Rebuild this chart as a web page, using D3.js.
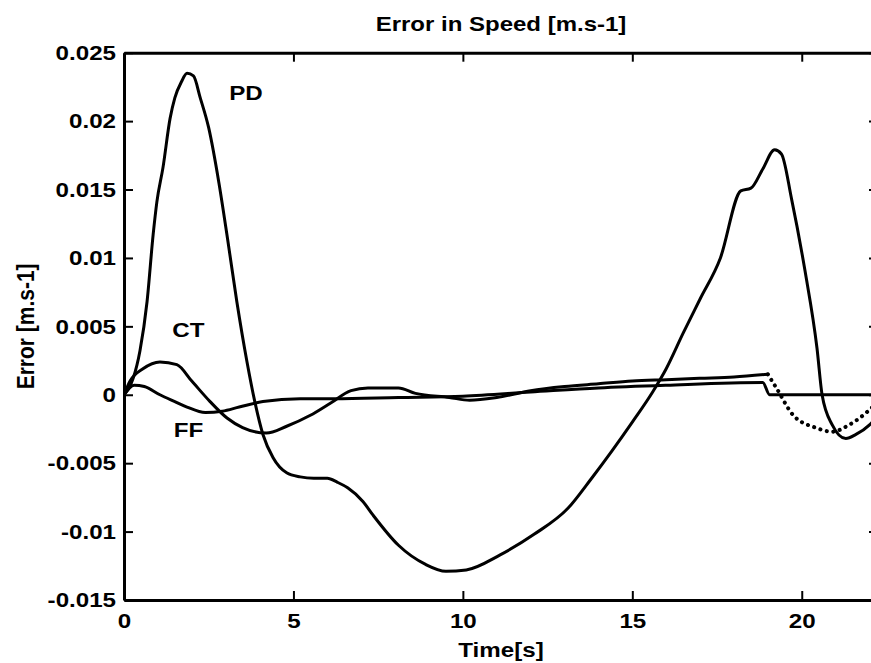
<!DOCTYPE html>
<html>
<head>
<meta charset="utf-8">
<script src="https://cdn.jsdelivr.net/npm/d3@7"></script>
<style>
body { margin: 0; background: #fff; }
text { font-family: "Liberation Sans", Arial, sans-serif; font-weight: bold; fill: #000; }
</style>
</head>
<body>
<div id="chart"></div>
<script>
// values
const pdTime  = [0, 0.15, 0.27, 0.47, 0.68, 0.86, 0.97, 1.15, 1.36, 1.5, 1.7, 1.86, 2.05, 2.25, 2.5, 2.8, 3.05, 3.33, 3.63, 3.86, 4.1, 4.4, 4.8, 5.2, 5.6, 6.0, 6.3, 6.6, 7.05, 7.35, 8.1, 8.9, 9.5, 10.1, 11.1, 12.1, 13.1, 13.8, 14.4, 15.0, 15.6, 16.0, 16.5, 17.0, 17.6, 18.2, 18.5, 18.85, 19.2, 19.4, 19.7, 20.1, 20.45, 20.6, 20.9, 21.3, 21.6, 22.0, 22.25]
const pdError = [0, 0.0005, 0.0012, 0.0032, 0.0068, 0.0117, 0.0141, 0.0166, 0.0202, 0.0217, 0.0229, 0.0235, 0.0233, 0.0217, 0.0195, 0.0155, 0.0115, 0.0068, 0.0024, -0.0005, -0.0029, -0.0046, -0.0057, -0.006, -0.0061, -0.0061, -0.0064, -0.0068, -0.0078, -0.0088, -0.011, -0.0124, -0.0129, -0.0128, -0.0117, -0.0102, -0.0083, -0.0061, -0.0041, -0.002, 0.0002, 0.0019, 0.0045, 0.007, 0.01, 0.0149, 0.0151, 0.0165, 0.0179, 0.0176, 0.0143, 0.009, 0.0034, 0.0, -0.0022, -0.0032, -0.0029, -0.0022, -0.0015]

const ctTime  = [0, 0.18, 0.56, 1.06, 1.56, 2.0, 2.54, 3.04, 3.5, 4.2, 4.8, 5.5, 6.1, 6.7, 7.2, 8.1, 8.6, 9.6, 10.2, 11, 12, 13, 14, 15, 16, 17, 18, 19.0, 19.25, 19.75, 20.4, 20.9, 21.4, 22.0, 22.25]
const ctError = [0, 0.001, 0.0019, 0.0024, 0.0022, 0.001, -0.0005, -0.0017, -0.0024, -0.0028, -0.0023, -0.0015, -0.0006, 0.0003, 0.0005, 0.0005, 0.0001, -0.0002, -0.0004, -0.0002, 0.0003, 0.0006, 0.0008, 0.001, 0.0011, 0.0012, 0.0013, 0.0015, 0.0005, -0.0015, -0.0024, -0.0027, -0.0022, -0.0011, -0.0005]
// CT is drawn dotted after this time
const ctDottedFrom = 19.0

const ffTime  = [0, 0.3, 0.6, 1.06, 1.5, 1.86, 2.4, 2.9, 3.4, 4.1, 5.2, 6.2, 8.1, 10, 12, 14, 16, 18.85, 19.05, 22.25]
const ffError = [0, 0.0007, 0.0006, 0.0, -0.0005, -0.0009, -0.0013, -0.0012, -0.0009, -0.0005, -0.0003, -0.0003, -0.0002, -0.0001, 0.0002, 0.0005, 0.0007, 0.0009, 0, 0]

// curve labels and where they sit (time, error)
const curveNames = ["PD", "CT", "FF"]
const nameTime  = [3.6, 1.9, 1.9]
const nameError = [0.0221, 0.0048, -0.0025]

const xTicks = [0, 5, 10, 15, 20]
const yTicks = [-0.015, -0.01, -0.005, 0, 0.005, 0.01, 0.015, 0.02, 0.025]
const xDomain = [0, 22.25]
const yDomain = [-0.015, 0.025]

const title = "Error in Speed [m.s-1]"
const xTitle = "Time[s]"
const yTitle = "Error [m.s-1]"

// layout
const width = 871
const height = 663
const plotLeft = 124
const plotRight = 878
const plotTop = 52.7
const plotBottom = 600
const sx = 1.15   // the scan stretches text sideways

const x = d3.scaleLinear().domain(xDomain).range([plotLeft, plotRight])
const y = d3.scaleLinear().domain(yDomain).range([plotBottom, plotTop])

const svg = d3.select("#chart")
    .append("svg")
        .attr("width", width)
        .attr("height", height)

svg.append("defs").append("clipPath")
        .attr("id", "plot-clip")
    .append("rect")
        .attr("x", plotLeft)
        .attr("y", plotTop)
        .attr("width", plotRight - plotLeft)
        .attr("height", plotBottom - plotTop)

const toPoints = (ts, vs) => ts.map((t, i) => ({ t: t, v: vs[i] }))

const line = d3.line()
    .x(d => x(d.t))
    .y(d => y(d.v))
    .curve(d3.curveMonotoneX)

const lines = svg.append("g").attr("clip-path", "url(#plot-clip)")

const ctPoints = toPoints(ctTime, ctError)

const series = [
    { pts: toPoints(pdTime, pdError), dash: null },
    { pts: ctPoints.filter(d => d.t <= ctDottedFrom), dash: null },
    { pts: ctPoints.filter(d => d.t >= ctDottedFrom), dash: "0.1,6.5" },
    { pts: toPoints(ffTime, ffError), dash: null }
]

lines.selectAll("path")
    .data(series)
    .join("path")
        .attr("d", d => line(d.pts))
        .attr("fill", "none")
        .attr("stroke", "#000")
        .attr("stroke-width", d => d.dash ? 4 : 3)
        .attr("stroke-linecap", "round")
        .attr("stroke-linejoin", "round")
        .attr("stroke-dasharray", d => d.dash)

// axes, MATLAB style with ticks pointing inward on all four sides
const yFormat = d => String(+d.toFixed(3))

const styleAxis = g => {
    g.select(".domain").attr("stroke-width", 3)
    g.selectAll(".tick line").attr("stroke-width", 2)
    g.selectAll(".tick text")
        .attr("font-size", 21)
        .attr("transform", `scale(${sx},1)`)
}

svg.append("g")
    .attr("transform", `translate(0,${plotBottom})`)
    .call(d3.axisBottom(x).tickValues(xTicks).tickSizeInner(-9).tickSizeOuter(0).tickPadding(13).tickFormat(d3.format("d")))
    .call(styleAxis)

svg.append("g")
    .attr("transform", `translate(0,${plotTop})`)
    .call(d3.axisTop(x).tickValues(xTicks).tickSizeInner(-9).tickSizeOuter(0).tickFormat(""))
    .call(styleAxis)

svg.append("g")
    .attr("transform", `translate(${plotLeft},0)`)
    .call(d3.axisLeft(y).tickValues(yTicks).tickSizeInner(-9).tickSizeOuter(0).tickPadding(8).tickFormat(yFormat))
    .call(styleAxis)
    .call(g => g.selectAll(".tick text").attr("x", -8 / sx))

svg.append("g")
    .attr("transform", `translate(${plotRight},0)`)
    .call(d3.axisRight(y).tickValues(yTicks).tickSizeInner(-9).tickSizeOuter(0).tickFormat(""))
    .call(styleAxis)

// curve names
svg.append("g")
    .selectAll("text")
    .data(curveNames)
    .join("text")
        .attr("transform", (d, i) => `translate(${x(nameTime[i])},${y(nameError[i])}) scale(${sx},1)`)
        .attr("text-anchor", "middle")
        .attr("dy", "0.36em")
        .attr("font-size", 21)
    .text(d => d)

// titles
svg.append("text")
        .attr("transform", `translate(${(plotLeft + plotRight) / 2},31) scale(1.2,1)`)
        .attr("text-anchor", "middle")
        .attr("font-size", 20)
    .text(title)

svg.append("text")
        .attr("transform", `translate(${(plotLeft + plotRight) / 2},657) scale(${sx},1)`)
        .attr("text-anchor", "middle")
        .attr("font-size", 21)
    .text(xTitle)

svg.append("text")
        .attr("transform", `translate(34,${(plotTop + plotBottom) / 2}) scale(${sx},1) rotate(-90)`)
        .attr("text-anchor", "middle")
        .attr("font-size", 21)
    .text(yTitle)
</script>
</body>
</html>
